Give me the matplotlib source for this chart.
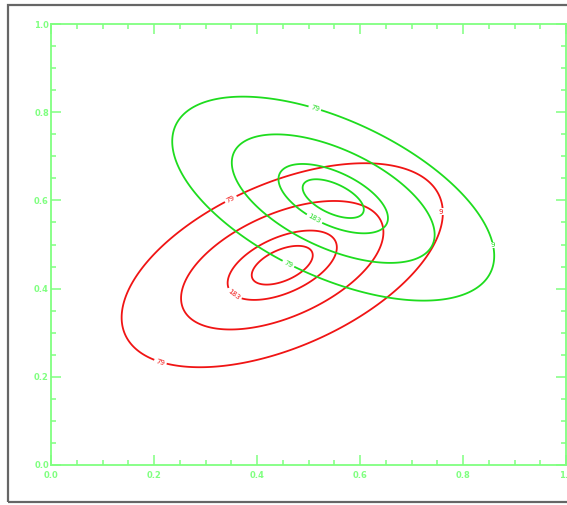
import numpy as np
import matplotlib
matplotlib.use("Agg")
import matplotlib.pyplot as plt
from matplotlib.patches import Rectangle

# ---- data ----
red_center = [0.449, 0.453]
green_center = [0.548, 0.604]
red_axes = [0.344, 0.180]
green_axes = [0.349, 0.1715]
red_angle = 29.7
green_angle = -30.7
contour_radii = [0.19, 0.34, 0.63, 1.0]
labeled_radii = [0.34, 1.0]
label_text = {1.0: "79", 0.34: "183"}
red_label_pos = [(0.353, 0.594), (0.212, 0.232), (0.353, 0.383)]
green_label_pos = [(0.513, 0.812), (0.460, 0.454), (0.509, 0.553)]
extra_labels = [("9", 0.757, 0.574, "red"), ("9", 0.858, 0.499, "green")]
xticks = [0.0, 0.2, 0.4, 0.6, 0.8, 1.0]
yticks = [0.0, 0.2, 0.4, 0.6, 0.8, 1.0]
tick_labels = ["0.0", "0.2", "0.4", "0.6", "0.8", "1.0"]

RED = "#f01414"
GREEN = "#1edc1e"
AXC = "#80ff80"

W, H = 567, 505
fig = plt.figure(figsize=(W / 100, H / 100), dpi=100)
fig.patch.set_facecolor("white")
ax = fig.add_axes([51 / W, 40 / H, 515 / W, 441 / H])

gx = np.linspace(0, 1, 600)
gy = np.linspace(0, 1, 600)
X, Y = np.meshgrid(gx, gy)


def qform(center, axes_, angle):
    t = np.deg2rad(angle)
    dx = X - center[0]
    dy = Y - center[1]
    u = dx * np.cos(t) + dy * np.sin(t)
    v = -dx * np.sin(t) + dy * np.cos(t)
    return (u / axes_[0]) ** 2 + (v / axes_[1]) ** 2


plain_levels = [r ** 2 for r in contour_radii if r not in labeled_radii]
lab_levels = [r ** 2 for r in labeled_radii]
fmt = {r ** 2: label_text[r] for r in labeled_radii}

for center, axes_, angle, col, lpos in [
        (red_center, red_axes, red_angle, RED, red_label_pos),
        (green_center, green_axes, green_angle, GREEN, green_label_pos)]:
    Q = qform(center, axes_, angle)
    ax.contour(X, Y, Q, levels=plain_levels, colors=col, linewidths=1.3)
    cs = ax.contour(X, Y, Q, levels=lab_levels, colors=col, linewidths=1.3)
    cs.clabel(manual=lpos, fmt=fmt, inline=True, fontsize=5, colors=col,
              inline_spacing=2)

for txt, x, y, c in extra_labels:
    ax.text(x, y, txt, fontsize=5, color=RED if c == "red" else GREEN,
            ha="center", va="center",
            bbox=dict(facecolor="white", edgecolor="none", pad=0.3))

ax.set_xlim(0, 1)
ax.set_ylim(0, 1)
ax.set_xticks(xticks)
ax.set_yticks(yticks)
ax.set_xticklabels(tick_labels)
ax.set_yticklabels(tick_labels)
ax.set_xticks(np.arange(0, 1.0001, 0.05), minor=True)
ax.set_yticks(np.arange(0, 1.0001, 0.05), minor=True)
ax.tick_params(which="both", direction="in", top=True, right=True,
               color=AXC, width=1.1, labelcolor=AXC, labelsize=6)
ax.tick_params(which="major", length=7.5)
ax.tick_params(which="minor", length=3.8)
ax.tick_params(axis="x", which="major", pad=4)
ax.tick_params(axis="y", which="major", pad=1.5)
for lab in ax.get_xticklabels() + ax.get_yticklabels():
    lab.set_fontweight("bold")
for s in ax.spines.values():
    s.set_color(AXC)
    s.set_linewidth(1.3)

fig.add_artist(Rectangle((8 / W, 1 - 502 / H), (W + 20) / W, (502 - 5) / H,
                         transform=fig.transFigure, fill=False,
                         edgecolor="#666666", linewidth=1.6))

fig.savefig("out.png", dpi=100)
